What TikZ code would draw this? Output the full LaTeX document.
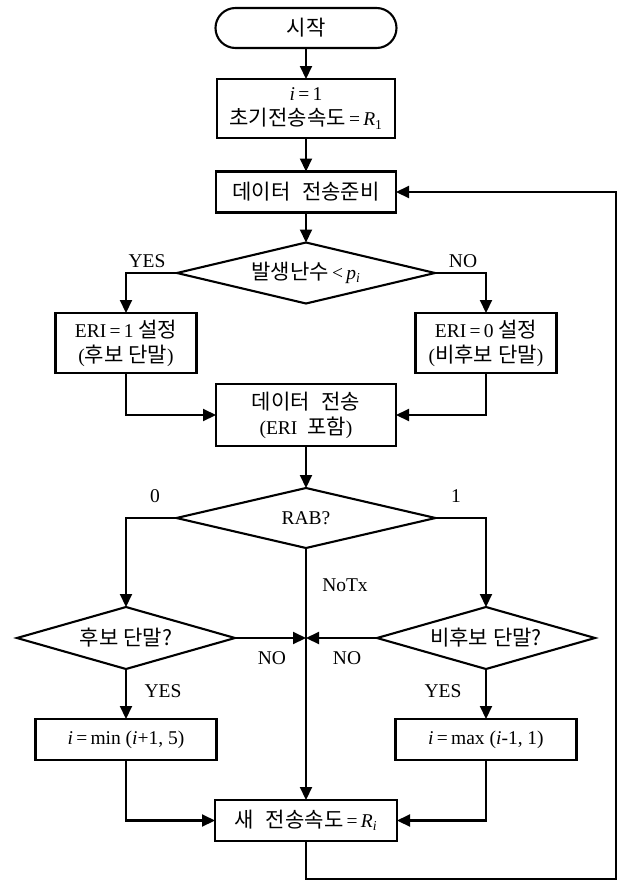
\documentclass[tikz,border=0pt]{standalone}
\usepackage{fontspec}
\setmainfont{Liberation Serif}
\newfontfamily\kr[Scale=1.08]{Noto Sans CJK KR}
\usetikzlibrary{shapes.geometric,arrows.meta}
\begin{document}
\begin{tikzpicture}[x=1pt,y=-1pt,
  every node/.style={font=\fontsize{19.5}{25}\selectfont},
  box/.style={draw, line width=2.1pt, rectangle, inner sep=0pt, outer sep=0pt, align=center},
  dia/.style={draw, line width=2.1pt, diamond, inner sep=0pt, outer sep=0pt, aspect=4},
  arr/.style={line width=2.1pt, -{Triangle[length=13pt,width=12pt]}},
  lbl/.style={inner sep=0pt}
]
\useasboundingbox (0,0) rectangle (621,881);

\node[box, rounded corners=20pt, minimum width=181pt, minimum height=40pt] (start) at (306,28) {\kr 시작};
\node[box, minimum width=178pt, minimum height=59pt] (init) at (306,108.5) {\textit{i}\,=\,1\\{\kr 초기전송속도}\,=\,\textit{R}\textsubscript{1}};
\node[box, minimum width=180pt, minimum height=41pt] (prep) at (306,192) {{\kr 데이터}\hspace{0.6em}{\kr 전송준비}};
\node[dia, minimum width=258pt, minimum height=61pt] (rnd) at (306,273) {{\kr 발생난수}\,<\,\textit{p}\textsubscript{\textit{i}}};
\node[box, minimum width=141pt, minimum height=60pt] (eri1) at (126,343) {ERI\,=\,1 {\kr 설정}\\({\kr 후보 단말})};
\node[box, minimum width=141pt, minimum height=60pt] (eri0) at (486,343) {ERI\,=\,0 {\kr 설정}\\({\kr 비후보 단말})};
\node[box, minimum width=180pt, minimum height=62pt] (tx) at (306,415) {{\kr 데이터}\hspace{0.6em}{\kr 전송}\\(ERI\hspace{0.5em}{\kr 포함})};
\node[dia, minimum width=259pt, minimum height=60pt] (rab) at (306,518) {RAB?};
\node[dia, minimum width=218pt, minimum height=62pt] (cand) at (126,638) {\kr 후보 단말?};
\node[dia, minimum width=218pt, minimum height=62pt] (ncand) at (486,638) {\kr 비후보 단말?};
\node[box, minimum width=181pt, minimum height=41pt] (inc) at (126,739.5) {\textit{i}\,=\,min (\textit{i}+1, 5)};
\node[box, minimum width=181pt, minimum height=41pt] (dec) at (486,739.5) {\textit{i}\,=\,max (\textit{i}-1, 1)};
\node[box, minimum width=182pt, minimum height=41pt] (rate) at (306,820.5) {{\kr 새}\hspace{0.6em}{\kr 전송속도}\,=\,\textit{R}\textsubscript{\textit{i}}};

\node[lbl] (lyes1) at (147,261) {YES};
\node[lbl] (lno1) at (463,261) {NO};
\node[lbl] (l0) at (155,496) {0};
\node[lbl] (l1) at (456,496) {1};
\node[lbl] (lnotx) at (345,585) {NoTx};
\node[lbl] (lno2) at (272,658) {NO};
\node[lbl] (lno3) at (347,658) {NO};
\node[lbl] (lyes2) at (163,691) {YES};
\node[lbl] (lyes3) at (443,691) {YES};

\draw[arr] (start) -- (init);
\draw[arr] (init) -- (prep);
\draw[arr] (prep) -- (rnd);
\draw[arr] (rnd.west) -| (eri1.north);
\draw[arr] (rnd.east) -| (eri0.north);
\draw[arr] (eri1.south) |- (tx.west);
\draw[arr] (eri0.south) |- (tx.east);
\draw[arr] (tx) -- (rab);
\draw[arr] (rab.west) -| (cand.north);
\draw[arr] (rab.east) -| (ncand.north);
\coordinate (merge) at (rab.south |- cand.east);
\draw[arr] (rab.south) -- (rate.north);
\draw[arr] (cand.east) -- (merge);
\draw[arr] (ncand.west) -- (merge);
\draw[arr] (cand.south) -- (inc.north);
\draw[arr] (ncand.south) -- (dec.north);
\draw[arr] (inc.south) |- (rate.west);
\draw[arr] (dec.south) |- (rate.east);
\coordinate (fb) at (616,879);
\draw[arr] (rate.south) |- (fb) |- (prep.east);
\end{tikzpicture}
\end{document}
